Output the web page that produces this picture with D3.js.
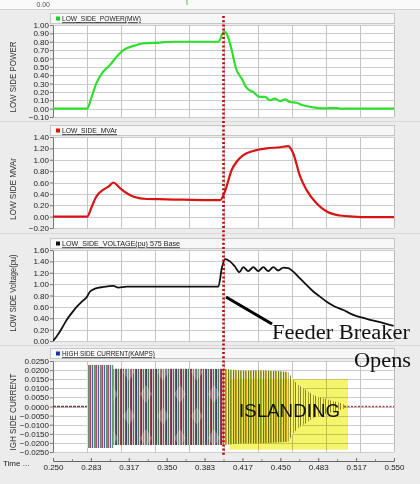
<!DOCTYPE html>
<html><head><meta charset="utf-8">
<script src="https://cdn.jsdelivr.net/npm/d3@7"></script>
<style>
html,body{margin:0;padding:0;background:#ececec;}
svg{display:block;}
</style></head><body>
<svg id="c" width="420" height="484" font-family="Liberation Sans, Arial, sans-serif"></svg>
<script>
// ---------------- DATA ----------------
const timeLabels = ["0.250","0.283","0.317","0.350","0.383","0.417","0.450","0.483","0.517","0.550"];
const breakerTime = 0.40;

const powerTicks = [-0.10,0.00,0.10,0.20,0.30,0.40,0.50,0.60,0.70,0.80,0.90,1.00];
const powerT = [0.250,0.280,0.284,0.288,0.294,0.300,0.306,0.312,0.321,0.329,0.344,0.356,0.380,0.3955,0.4005,0.4033,0.4072,0.411,0.416,0.420,0.426,0.432,0.4365,0.441,0.445,0.450,0.454,0.4585,0.4644,0.470,0.479,0.488,0.4996,0.5025,0.550];
const powerV = [0,0,0.14,0.30,0.44,0.52,0.62,0.70,0.75,0.78,0.79,0.80,0.80,0.80,0.92,0.88,0.70,0.48,0.36,0.255,0.20,0.14,0.14,0.10,0.12,0.09,0.11,0.08,0.07,0.04,0.015,0.004,0.007,0.0,0.0];

const mvarTicks = [-0.20,0.00,0.20,0.40,0.60,0.80,1.00,1.20,1.40];
const mvarT = [0.250,0.280,0.284,0.288,0.294,0.299,0.303,0.309,0.315,0.321,0.3325,0.350,0.388,0.397,0.4013,0.4072,0.4116,0.4174,0.4262,0.438,0.4497,0.457,0.4614,0.4673,0.473,0.482,0.4908,0.5025,0.514,0.526,0.550];
const mvarV = [0,0,0.17,0.35,0.47,0.53,0.60,0.50,0.41,0.35,0.31,0.305,0.29,0.29,0.445,0.82,0.965,1.08,1.155,1.20,1.22,1.24,1.11,0.71,0.47,0.23,0.09,0.02,0.0,-0.01,-0.01];

const voltTicks = [0.00,0.20,0.40,0.60,0.80,1.00,1.20,1.40,1.60];
const voltT = [0.250,0.253,0.2577,0.262,0.2664,0.2708,0.2752,0.2796,0.2826,0.287,0.2943,0.303,0.3075,0.315,0.338,0.3955,0.3985,0.4013,0.4057,0.410,0.414,0.4174,0.4218,0.4262,0.4306,0.435,0.4394,0.4438,0.4482,0.4526,0.457,0.4614,0.4673,0.473,0.479,0.4849,0.4908,0.4966,0.5054,0.5142,0.526,0.5377,0.549];
const voltV = [0,0.075,0.22,0.37,0.49,0.60,0.69,0.77,0.87,0.92,0.95,0.97,0.94,0.955,0.955,0.955,1.28,1.44,1.40,1.31,1.21,1.30,1.23,1.30,1.23,1.30,1.23,1.30,1.24,1.29,1.28,1.22,1.10,0.985,0.87,0.78,0.69,0.62,0.545,0.46,0.39,0.33,0.27];

const curTicks = [-0.025,-0.020,-0.015,-0.010,-0.005,0.000,0.005,0.010,0.015,0.020,0.025];
// envelope of the high-side current oscillation
const curT  = [0.280,0.303,0.3031,0.330,0.360,0.390,0.400,0.410,0.420,0.430,0.440,0.450,0.457,0.461,0.465,0.469,0.473,0.477,0.481,0.486,0.491,0.496,0.501,0.506];
const curHi = [0.0228,0.0228,0.0207,0.0206,0.0207,0.0206,0.0207,0.0201,0.0196,0.0199,0.0196,0.0194,0.0190,0.0150,0.0122,0.0105,0.0090,0.0072,0.0058,0.0048,0.0040,0.0030,0.0022,0.0012];
const curLo = [-0.0228,-0.0228,-0.0212,-0.0212,-0.0211,-0.0212,-0.0211,-0.0206,-0.0202,-0.0203,-0.0200,-0.0197,-0.0193,-0.0150,-0.0122,-0.0105,-0.0090,-0.0072,-0.0058,-0.0048,-0.0040,-0.0030,-0.0022,-0.0012];
const curSegments = [[0.280,0.303],[0.3031,0.400],[0.400,0.457],[0.457,0.506]];
const islandT = [0.4035,0.4390];   // yellow box time span
const islandV = [-0.0215,0.0200];  // yellow box value span

// ---------------- DRAW ----------------
const svg = d3.select("#c");
const x = d3.scaleLinear().domain([0.25,0.55]).range([53,394]);
const defs = svg.append("defs");

function stripes(id, cols, bg){
  const w = cols.length;
  const p = defs.append("pattern").attr("id",id).attr("width",w).attr("height",8)
    .attr("patternUnits","userSpaceOnUse");
  if(bg) p.append("rect").attr("width",w).attr("height",8).attr("fill",bg);
  cols.forEach((c,i)=>{ if(c) p.append("rect").attr("x",i).attr("width",1).attr("height",8).attr("fill",c); });
}
stripes("pA1",["#b04a66","#d8d2c6","#5262a2","#e6e2da","#5c9a6c","#8a8a8a"],"#f0ece4");
stripes("pA2",["#94405a","#3c4866","#cfcac0","#4a7458","#dcd6cc"],null);
stripes("pB",["#8a9a22","#c4ac34","#f6f2d6","#6a7a2a","#e8e0b0"],null);
stripes("pC",["#8a8a50",null,null,"#b0a070",null],"#ffffff");
const dp = defs.append("pattern").attr("id","pD").attr("width",34).attr("height",44).attr("patternUnits","userSpaceOnUse").attr("x",53).attr("y",361);
dp.append("path").attr("d","M8,2 L14,11 L8,20 L2,11Z M25,24 L31,33 L25,42 L19,33Z").attr("fill","#eee8dc").attr("opacity",0.3);

// top remnant strip
svg.append("rect").attr("x",0).attr("y",0).attr("width",420).attr("height",9).attr("fill","#fafafa");
svg.append("line").attr("x1",0).attr("x2",420).attr("y1",9.5).attr("y2",9.5).attr("stroke","#d2d2d2");
svg.append("text").attr("x",50).attr("y",7).attr("text-anchor","end").attr("font-size",7).attr("fill","#555").text("0.00");
svg.append("line").attr("x1",187).attr("x2",187).attr("y1",0).attr("y2",5).attr("stroke","#4c4").attr("stroke-width",1);

const panels = [
  {hdr:13, top:25, bot:117, dom:[-0.10,1.00], ticks:powerTicks, fmt:d3.format(".2f"),
   legend:"LOW_SIDE_POWER(MW)", legW:79, mk:"#22cc22", title:"LOW SIDE POWER", titW:71, titC:77},
  {hdr:125, top:137, bot:228, dom:[-0.20,1.40], ticks:mvarTicks, fmt:d3.format(".2f"),
   legend:"LOW_SIDE_MVAr", legW:55, mk:"#dd1111", title:"LOW SIDE MVAr", titW:62, titC:189},
  {hdr:238, top:250, bot:341, dom:[0,1.60], ticks:voltTicks, fmt:d3.format(".2f"),
   legend:"LOW_SIDE_VOLTAGE(pu) 575 Base", legW:118, mk:"#111111", title:"LOW SIDE Voltage(pu)", titW:77, titC:293},
  {hdr:348, top:361, bot:452, dom:[-0.025,0.025], ticks:curTicks, fmt:d3.format(".4f"),
   legend:"HIGH SIDE CURRENT(KAMPS)", legW:93, mk:"#2233aa", title:"IGH SIDE CURRENT", titW:77, titC:412}
];
[121,233,345].forEach(yy=>svg.append("line").attr("x1",0).attr("x2",420).attr("y1",yy+0.5).attr("y2",yy+0.5).attr("stroke","#dadada"));

const gridT = d3.range(0,11).map(i=>0.25+i*0.03);
panels.forEach((p,pi)=>{
  p.y = d3.scaleLinear().domain(p.dom).range([p.bot,p.top]);
  svg.append("rect").attr("x",50.5).attr("y",p.hdr+0.5).attr("width",344).attr("height",10)
    .attr("fill","#f7f7f7").attr("stroke","#c6c6c6");
  svg.append("rect").attr("x",56).attr("y",p.hdr+3.5).attr("width",4).attr("height",4).attr("fill",p.mk);
  svg.append("text").attr("x",62).attr("y",p.hdr+8.3).attr("font-size",8).attr("fill","#222")
    .attr("text-decoration","underline").attr("textLength",p.legW).attr("lengthAdjust","spacingAndGlyphs").text(p.legend);
  svg.append("rect").attr("x",53).attr("y",p.top).attr("width",341).attr("height",p.bot-p.top).attr("fill","#fff");
  const g = svg.append("g");
  g.selectAll(".gh").data(p.ticks).join("line")
    .attr("x1",53).attr("x2",394).attr("y1",d=>Math.round(p.y(d))+0.5).attr("y2",d=>Math.round(p.y(d))+0.5)
    .attr("stroke","#cdcdcd");
  g.selectAll(".gv").data(gridT).join("line")
    .attr("y1",p.top).attr("y2",p.bot).attr("x1",d=>Math.round(x(d))+0.5).attr("x2",d=>Math.round(x(d))+0.5)
    .attr("stroke","#c4c4c4");
  const ax = svg.append("g").attr("transform","translate(53,0)")
    .call(d3.axisLeft(p.y).tickValues(p.ticks).tickFormat(p.fmt).tickSize(3).tickSizeOuter(0).tickPadding(1));
  ax.attr("font-family",null).attr("font-size",null);
  ax.select(".domain").attr("stroke","#777");
  ax.selectAll(".tick line").attr("stroke","#777");
  ax.selectAll("text").attr("font-size",8).attr("fill","#222");
  svg.append("line").attr("x1",394.5).attr("x2",394.5).attr("y1",p.top).attr("y2",p.bot).attr("stroke","#bbb");
  svg.append("text").attr("transform",`translate(16,${p.titC}) rotate(-90)`).attr("text-anchor","middle")
    .attr("font-size",8.5).attr("fill","#333").attr("textLength",p.titW).attr("lengthAdjust","spacingAndGlyphs").text(p.title);
  defs.append("clipPath").attr("id","cl"+pi).append("rect").attr("x",53).attr("y",p.top-3).attr("width",341).attr("height",p.bot-p.top+3);
});

function drawLine(p, pi, T, V, color, w, curve){
  const line = d3.line().x(d=>x(d[0])).y(d=>p.y(d[1])).curve(curve||d3.curveLinear);
  svg.append("path").attr("clip-path",`url(#cl${pi})`).datum(T.map((t,i)=>[t,V[i]]))
    .attr("d",line).attr("fill","none").attr("stroke",color).attr("stroke-width",w)
    .attr("stroke-linejoin","round").attr("stroke-linecap","round");
}
drawLine(panels[0],0,powerT,powerV,"#2ee02e",2.2,d3.curveMonotoneX);
drawLine(panels[1],1,mvarT,mvarV,"#d81515",2.2,d3.curveMonotoneX);
drawLine(panels[2],2,voltT,voltV,"#111",1.8,d3.curveMonotoneX);

// current panel
const pc = panels[3];
const cur = curT.map((t,i)=>({t,hi:curHi[i],lo:curLo[i]}));
const area = d3.area().x(d=>x(d.t)).y0(d=>pc.y(d.lo)).y1(d=>pc.y(d.hi));
const gc = svg.append("g").attr("clip-path","url(#cl3)");
gc.append("line").attr("x1",x(0.25)).attr("x2",x(0.280)).attr("y1",pc.y(0)).attr("y2",pc.y(0))
  .attr("stroke","#7a3a3a").attr("stroke-width",1.3).attr("stroke-dasharray","3,1");
gc.append("line").attr("x1",x(0.506)).attr("x2",x(0.55)).attr("y1",pc.y(0)).attr("y2",pc.y(0))
  .attr("stroke","#b04848").attr("stroke-width",1.3).attr("stroke-dasharray","2,1.5");
const fills = ["url(#pA1)","url(#pA2)","url(#pB)","url(#pC)"];
curSegments.forEach((s,i)=>{
  const seg = cur.filter(d=>d.t>=s[0]-1e-9 && d.t<=s[1]+1e-9);
  gc.append("path").datum(seg).attr("d",area).attr("fill",fills[i]);
  if(i===1) gc.append("path").datum(seg).attr("d",area).attr("fill","url(#pD)");
});
svg.append("rect").attr("x",x(islandT[0])+2).attr("y",pc.y(islandV[1])+9)
  .attr("width",348-(x(islandT[0])+2)).attr("height",pc.y(islandV[0])-pc.y(islandV[1])-5)
  .attr("fill","#f6f46a").style("mix-blend-mode","multiply");

// x axis
const xt = timeLabels.map((s,i)=>0.25+i*0.3/9);
const xa = svg.append("g").attr("transform","translate(0,461)")
  .call(d3.axisBottom(x).tickValues(xt).tickFormat((d,i)=>timeLabels[i]).tickSizeInner(-3).tickSizeOuter(0).tickPadding(3));
xa.attr("font-family",null).attr("font-size",null);
xa.select(".domain").attr("stroke","#666");
xa.selectAll(".tick line").attr("stroke","#666");
xa.selectAll("text").attr("font-size",8).attr("fill","#222");
const xm = svg.append("g").attr("transform","translate(0,461)")
  .call(d3.axisBottom(x).tickValues(xt.slice(0,-1).map(v=>v+0.3/18)).tickFormat("").tickSizeInner(-2).tickSizeOuter(0));
xm.select(".domain").remove(); xm.selectAll(".tick line").attr("stroke","#888");
svg.append("text").attr("x",3).attr("y",466).attr("font-size",8).attr("fill","#222").text("Time ...");

// breaker line
svg.append("line").attr("x1",x(breakerTime)).attr("x2",x(breakerTime)).attr("y1",16).attr("y2",456)
  .attr("stroke","#cc0000").attr("stroke-width",2.6).attr("stroke-dasharray","2,2.2");

// annotations
svg.append("line").attr("x1",226).attr("y1",297).attr("x2",272).attr("y2",324).attr("stroke","#000").attr("stroke-width",3);
svg.append("text").attr("x",272).attr("y",339).attr("font-family","Liberation Serif, Times New Roman, serif")
  .attr("font-size",20).attr("fill","#111").attr("textLength",138).attr("lengthAdjust","spacingAndGlyphs").text("Feeder Breaker");
svg.append("text").attr("x",354).attr("y",367).attr("font-family","Liberation Serif, Times New Roman, serif")
  .attr("font-size",20).attr("fill","#111").attr("textLength",57).attr("lengthAdjust","spacingAndGlyphs").text("Opens");
svg.append("text").attr("x",239).attr("y",417).attr("font-size",19).attr("fill","#111")
  .attr("textLength",101).attr("lengthAdjust","spacingAndGlyphs").text("ISLANDING");
</script>
</body></html>
